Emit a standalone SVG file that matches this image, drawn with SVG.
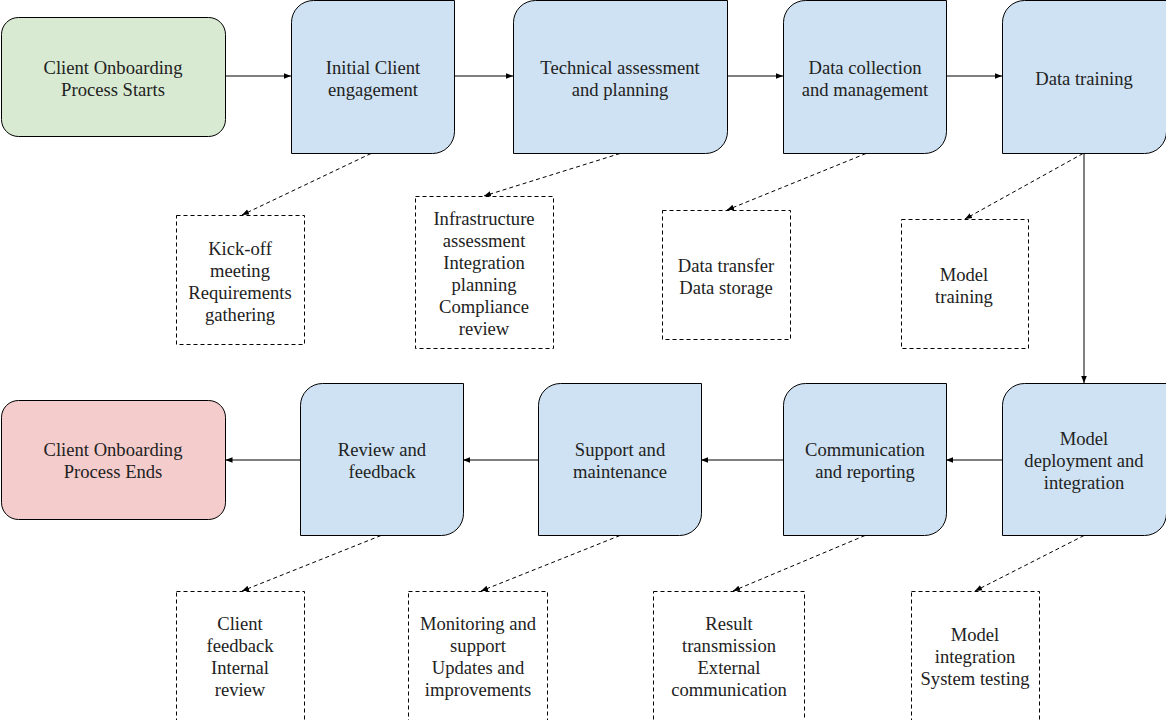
<svg xmlns="http://www.w3.org/2000/svg" width="1166" height="720" viewBox="0 0 1166 720">
<defs>
<marker id="ah" viewBox="0 0 10 10" refX="10" refY="5" markerWidth="7" markerHeight="7" markerUnits="userSpaceOnUse" orient="auto">
<path d="M0,1 L10,5 L0,9 Z" fill="#000"/>
</marker>
</defs>
<style>
text{font-family:"Liberation Serif","Times New Roman",serif;font-size:18.6px;fill:#222;text-anchor:middle}
.blue{fill:#cfe2f3;stroke:#000;stroke-width:1}
.start{fill:#d9ead3;stroke:#000;stroke-width:1}
.end{fill:#f4cccc;stroke:#000;stroke-width:1}
.note{fill:#fff;stroke:#000;stroke-width:1;stroke-dasharray:4 3}
.flow{fill:none;stroke:#000;stroke-width:1;marker-end:url(#ah)}
.dash{fill:none;stroke:#000;stroke-width:1;stroke-dasharray:4 3;marker-end:url(#ah)}
</style>
<rect width="1166" height="720" fill="#fff"/>
<g id="connectors">
<path class="flow" d="M225.5,76 H291"/>
<path class="flow" d="M455,76 H513"/>
<path class="flow" d="M727,76 H783"/>
<path class="flow" d="M946,76 H1002"/>
<path class="flow" d="M1084,153 V383"/>
<path class="flow" d="M1002,460 H946"/>
<path class="flow" d="M783,460 H701"/>
<path class="flow" d="M538,460 H463"/>
<path class="flow" d="M300,460 H225.5"/>
<path class="dash" d="M371,153.5 L242,215"/>
<path class="dash" d="M620,153.5 L484,196"/>
<path class="dash" d="M866,153.5 L727,210"/>
<path class="dash" d="M1083,153.5 L965,219"/>
<path class="dash" d="M381,535.5 L242,591"/>
<path class="dash" d="M620,535.5 L481,591"/>
<path class="dash" d="M865,535.5 L733,591"/>
<path class="dash" d="M1084,535.5 L975,591"/>
</g>
<g id="start">
<rect class="start" x="1.5" y="17.5" width="224" height="119" rx="17"/>
<text x="113" y="73.5">Client Onboarding</text>
<text x="113" y="95.5">Process Starts</text>
</g>
<g id="initial">
<path class="blue" d="M313.5,0.5 H454.5 V131.5 A22,22 0 0 1 432.5,153.5 H291.5 V22.5 A22,22 0 0 1 313.5,0.5 Z"/>
<text x="373" y="73.5">Initial Client</text>
<text x="373" y="95.5">engagement</text>
</g>
<g id="technical">
<path class="blue" d="M535.5,0.5 H727.5 V131.5 A22,22 0 0 1 705.5,153.5 H513.5 V22.5 A22,22 0 0 1 535.5,0.5 Z"/>
<text x="620" y="73.5">Technical assessment</text>
<text x="620" y="95.5">and planning</text>
</g>
<g id="datacollection">
<path class="blue" d="M805.5,0.5 H946.5 V131.5 A22,22 0 0 1 924.5,153.5 H783.5 V22.5 A22,22 0 0 1 805.5,0.5 Z"/>
<text x="865" y="73.5">Data collection</text>
<text x="865" y="95.5">and management</text>
</g>
<g id="datatraining">
<path class="blue" d="M1024.5,0.5 H1166.5 V131.5 A22,22 0 0 1 1144.5,153.5 H1002.5 V22.5 A22,22 0 0 1 1024.5,0.5 Z"/>
<text x="1084" y="84.5">Data training</text>
</g>
<g id="deployment">
<path class="blue" d="M1024.5,383.5 H1166.5 V513.5 A22,22 0 0 1 1144.5,535.5 H1002.5 V405.5 A22,22 0 0 1 1024.5,383.5 Z"/>
<text x="1084" y="444.5">Model</text>
<text x="1084" y="466.5">deployment and</text>
<text x="1084" y="488.5">integration</text>
</g>
<g id="communication">
<path class="blue" d="M805.5,383.5 H946.5 V513.5 A22,22 0 0 1 924.5,535.5 H783.5 V405.5 A22,22 0 0 1 805.5,383.5 Z"/>
<text x="865" y="455.5">Communication</text>
<text x="865" y="477.5">and reporting</text>
</g>
<g id="support">
<path class="blue" d="M560.5,383.5 H701.5 V513.5 A22,22 0 0 1 679.5,535.5 H538.5 V405.5 A22,22 0 0 1 560.5,383.5 Z"/>
<text x="620" y="455.5">Support and</text>
<text x="620" y="477.5">maintenance</text>
</g>
<g id="review">
<path class="blue" d="M322.5,383.5 H463.5 V513.5 A22,22 0 0 1 441.5,535.5 H300.5 V405.5 A22,22 0 0 1 322.5,383.5 Z"/>
<text x="382" y="455.5">Review and</text>
<text x="382" y="477.5">feedback</text>
</g>
<g id="end">
<rect class="end" x="1.5" y="400.5" width="224" height="119" rx="17"/>
<text x="113" y="455.5">Client Onboarding</text>
<text x="113" y="477.5">Process Ends</text>
</g>
<g id="note-kickoff">
<rect class="note" x="176.5" y="215.5" width="128" height="129"/>
<text x="240" y="254.5">Kick-off</text>
<text x="240" y="276.5">meeting</text>
<text x="240" y="298.5">Requirements</text>
<text x="240" y="320.5">gathering</text>
</g>
<g id="note-infra">
<rect class="note" x="415.5" y="196.5" width="138" height="152"/>
<text x="484" y="224.5">Infrastructure</text>
<text x="484" y="246.5">assessment</text>
<text x="484" y="268.5">Integration</text>
<text x="484" y="290.5">planning</text>
<text x="484" y="312.5">Compliance</text>
<text x="484" y="334.5">review</text>
</g>
<g id="note-data">
<rect class="note" x="662.5" y="210.5" width="128" height="129"/>
<text x="726" y="271.5">Data transfer</text>
<text x="726" y="293.5">Data storage</text>
</g>
<g id="note-model">
<rect class="note" x="901.5" y="219.5" width="127" height="129"/>
<text x="964" y="280.5">Model</text>
<text x="964" y="302.5">training</text>
</g>
<g id="note-feedback">
<rect class="note" x="176.5" y="591.5" width="128" height="130"/>
<text x="240" y="629.5">Client</text>
<text x="240" y="651.5">feedback</text>
<text x="240" y="673.5">Internal</text>
<text x="240" y="695.5">review</text>
</g>
<g id="note-monitoring">
<rect class="note" x="408.5" y="591.5" width="139" height="130"/>
<text x="478" y="629.5">Monitoring and</text>
<text x="478" y="651.5">support</text>
<text x="478" y="673.5">Updates and</text>
<text x="478" y="695.5">improvements</text>
</g>
<g id="note-result">
<rect class="note" x="653.5" y="591.5" width="151" height="130"/>
<text x="729" y="629.5">Result</text>
<text x="729" y="651.5">transmission</text>
<text x="729" y="673.5">External</text>
<text x="729" y="695.5">communication</text>
</g>
<g id="note-integration">
<rect class="note" x="911.5" y="591.5" width="128" height="130"/>
<text x="975" y="640.5">Model</text>
<text x="975" y="662.5">integration</text>
<text x="975" y="684.5">System testing</text>
</g>
</svg>
